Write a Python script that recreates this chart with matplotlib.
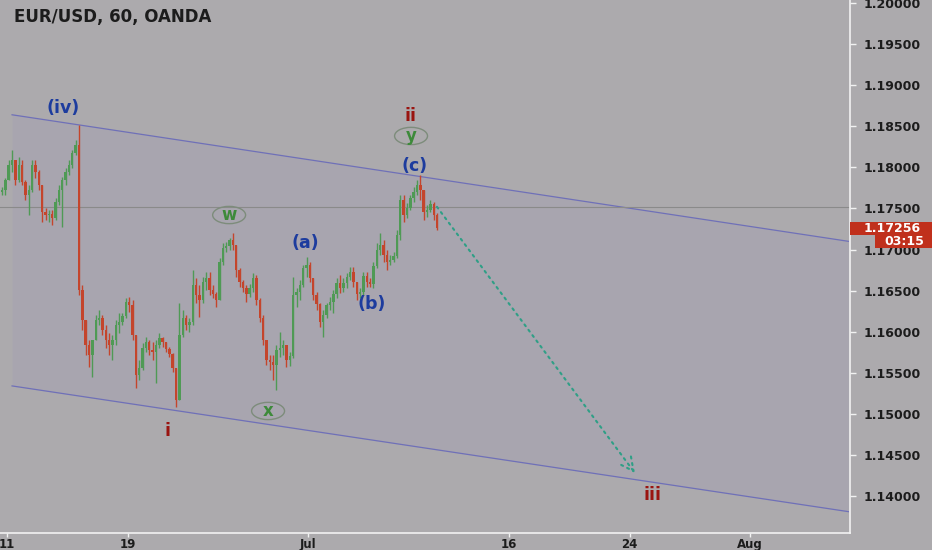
import matplotlib
matplotlib.use('Agg')
import matplotlib.pyplot as plt
from matplotlib.patches import Ellipse, Rectangle
import numpy as np

# 4-hour candles (EUR/USD, from Jun 8 late to Jul 11 2018)
highs = [1.1776, 1.1787, 1.1809, 1.1821, 1.1809, 1.1813, 1.1809, 1.1785, 1.1779, 1.1809,
         1.1809, 1.1797, 1.1779, 1.1751, 1.1748, 1.1748, 1.1763, 1.1779, 1.1788, 1.1799,
         1.1809, 1.1821, 1.1833, 1.1852, 1.1657, 1.1614, 1.1590, 1.1584, 1.1620, 1.1626,
         1.1620, 1.1608, 1.1598, 1.1596, 1.1614, 1.1623, 1.1623, 1.1641, 1.1642, 1.1639,
         1.1596, 1.1566, 1.1586, 1.1594, 1.1590, 1.1588, 1.1590, 1.1598, 1.1594, 1.1588,
         1.1581, 1.1574, 1.1556, 1.1635, 1.1626, 1.1620, 1.1617, 1.1675, 1.1665, 1.1657,
         1.1667, 1.1673, 1.1673, 1.1657, 1.1648, 1.1690, 1.1708, 1.1709, 1.1714, 1.1720,
         1.1706, 1.1678, 1.1663, 1.1657, 1.1658, 1.1672, 1.1669, 1.1641, 1.1620, 1.1590,
         1.1572, 1.1572, 1.1584, 1.1600, 1.1590, 1.1584, 1.1575, 1.1667, 1.1653, 1.1663,
         1.1681, 1.1691, 1.1685, 1.1665, 1.1648, 1.1635, 1.1626, 1.1635, 1.1642, 1.1651,
         1.1665, 1.1669, 1.1665, 1.1672, 1.1679, 1.1679, 1.1661, 1.1653, 1.1673, 1.1673,
         1.1665, 1.1685, 1.1708, 1.1720, 1.1712, 1.1699, 1.1693, 1.1697, 1.1724, 1.1766,
         1.1766, 1.1757, 1.1766, 1.1776, 1.1785, 1.1791, 1.1773, 1.1754, 1.1760, 1.1758, 1.1744]
lows = [1.1766, 1.1766, 1.1785, 1.1794, 1.1779, 1.1782, 1.1779, 1.1760, 1.1742, 1.1770,
        1.1787, 1.1773, 1.1734, 1.1736, 1.1734, 1.1730, 1.1736, 1.1754, 1.1727, 1.1779,
        1.1791, 1.1799, 1.1815, 1.1645, 1.1602, 1.1572, 1.1557, 1.1545, 1.1590, 1.1608,
        1.1596, 1.1580, 1.1572, 1.1566, 1.1584, 1.1598, 1.1608, 1.1617, 1.1624, 1.1590,
        1.1532, 1.1541, 1.1553, 1.1575, 1.1572, 1.1566, 1.1538, 1.1580, 1.1581, 1.1575,
        1.1569, 1.1551, 1.1508, 1.1517, 1.1594, 1.1602, 1.1600, 1.1608, 1.1635, 1.1618,
        1.1635, 1.1651, 1.1645, 1.1641, 1.1630, 1.1639, 1.1681, 1.1697, 1.1699, 1.1699,
        1.1667, 1.1654, 1.1648, 1.1636, 1.1642, 1.1648, 1.1633, 1.1612, 1.1584, 1.1560,
        1.1553, 1.1541, 1.1529, 1.1569, 1.1572, 1.1557, 1.1558, 1.1568, 1.1630, 1.1639,
        1.1654, 1.1667, 1.1661, 1.1639, 1.1626, 1.1606, 1.1594, 1.1617, 1.1626, 1.1623,
        1.1641, 1.1647, 1.1648, 1.1653, 1.1663, 1.1654, 1.1639, 1.1641, 1.1645, 1.1654,
        1.1654, 1.1653, 1.1678, 1.1693, 1.1685, 1.1675, 1.1681, 1.1685, 1.1690, 1.1712,
        1.1734, 1.1738, 1.1748, 1.1758, 1.1766, 1.1760, 1.1736, 1.1740, 1.1746, 1.1736, 1.1724]
closes = [1.1773, 1.1785, 1.1803, 1.1809, 1.1785, 1.1803, 1.1782, 1.1766, 1.1773, 1.1803,
          1.1794, 1.1779, 1.1746, 1.1742, 1.1743, 1.1738, 1.1758, 1.1773, 1.1785, 1.1794,
          1.1803, 1.1818, 1.1827, 1.1651, 1.1614, 1.1584, 1.1572, 1.1590, 1.1614, 1.1617,
          1.1602, 1.1590, 1.1584, 1.1590, 1.1608, 1.1612, 1.1619, 1.1636, 1.1633, 1.1596,
          1.1547, 1.1556, 1.1580, 1.1588, 1.1578, 1.1575, 1.1584, 1.1592, 1.1588, 1.1579,
          1.1573, 1.1556, 1.1517, 1.1596, 1.1617, 1.1608, 1.1612, 1.1657, 1.1645, 1.1639,
          1.1661, 1.1665, 1.1651, 1.1646, 1.1639, 1.1685, 1.1702, 1.1704, 1.1712, 1.1706,
          1.1675, 1.1661, 1.1653, 1.1646, 1.1653, 1.1665, 1.1639, 1.1617, 1.1590, 1.1566,
          1.1563, 1.1560, 1.1578, 1.1580, 1.1584, 1.1566, 1.1570, 1.1645, 1.1648, 1.1657,
          1.1678, 1.1681, 1.1665, 1.1645, 1.1634, 1.1612, 1.1620, 1.1633, 1.1636, 1.1646,
          1.1659, 1.1653, 1.1659, 1.1667, 1.1673, 1.1661, 1.1646, 1.1648, 1.1668, 1.1661,
          1.1658, 1.1680, 1.1699, 1.1706, 1.1693, 1.1685, 1.1687, 1.1692, 1.1718, 1.1760,
          1.1742, 1.1751, 1.1763, 1.1770, 1.1779, 1.1773, 1.1746, 1.1748, 1.1755, 1.1742, 1.17256]
first_open = 1.1770
last_price = '1.17256'
countdown = '03:15'

# x axis in trading days from Jun 11
date_ticks = [0, 6, 15, 25, 31, 37]
date_labels = ['11', '19', 'Jul', '16', '24', 'Aug']
price_ticks = [1.140, 1.145, 1.150, 1.155, 1.160, 1.165, 1.170, 1.175, 1.180, 1.185, 1.190, 1.195, 1.200]

# drawings
channel_days = [0.25, 41.9]
channel_upper = [1.1864, 1.1710]
channel_lower = [1.1534, 1.1381]
hline_price = 1.1752
arrow_from = (21.41, 1.1752)
arrow_to = (31.27, 1.1428)

wave_text = ['(iv)', '(c)', '(a)', '(b)', 'ii', 'i', 'iii']
wave_day = [2.79, 20.32, 14.84, 18.18, 20.07, 7.97, 32.12]
wave_price = [1.18723, 1.18017, 1.17080, 1.16337, 1.18625, 1.14792, 1.14013]
wave_kind = ['minor', 'minor', 'minor', 'minor', 'major', 'major', 'major']

circle_text = ['w', 'x', 'y']
circle_day = [11.06, 13.0, 20.12]
circle_price = [1.17420, 1.15035, 1.18382]

BG = '#acaaad'
UP = '#4f9a55'
DOWN = '#c4452c'
BLUE = '#1d3c9e'
RED = '#9a1410'
GREEN = '#3d8a3a'
TEAL = '#2f9f86'
TXT = '#1c1c1c'

fig = plt.figure(figsize=(9.32, 5.5), dpi=100, facecolor=BG)
ax = fig.add_axes([0, 17 / 550, 850 / 932, 533 / 550])
ax.set_facecolor(BG)
ax.set_xlim(-0.35, 41.98)
ax.set_ylim(1.1355, 1.20037)

# channel with tinted fill
ax.fill_between(channel_days, channel_lower, channel_upper, color='#8a80c8', alpha=0.10, lw=0, zorder=1)
ax.plot(channel_days, channel_upper, color='#6f70b8', lw=0.9, zorder=2)
ax.plot(channel_days, channel_lower, color='#6f70b8', lw=0.9, zorder=2)
ax.axhline(hline_price, color='#8a8a8a', lw=0.8, zorder=2)

# candles
h = np.array(highs)
l = np.array(lows)
c = np.array(closes)
o = np.concatenate([[first_open], c[:-1]])
t = (np.arange(len(c)) - 2 + 0.5) / 6
col = np.where(c >= o, UP, DOWN)
ax.vlines(t, l, h, colors=col, lw=1.0, zorder=3)
body = np.maximum(np.abs(c - o), 0.00006)
ax.bar(t, body, bottom=np.minimum(o, c), width=0.12, color=col, lw=0, zorder=4)

# projection arrow
ax.annotate('', xy=arrow_to, xytext=arrow_from,
            arrowprops=dict(arrowstyle='->', ls=(0, (1, 2.2)), color=TEAL, lw=1.5,
                            mutation_scale=24, shrinkA=0, shrinkB=0), zorder=5)

# wave labels
for s, d, p, k in zip(wave_text, wave_day, wave_price, wave_kind):
    ax.text(d, p, s, color=BLUE if k == 'minor' else RED, fontsize=12.5, fontweight='bold',
            ha='center', va='center', zorder=6)
for s, d, p in zip(circle_text, circle_day, circle_price):
    ax.add_patch(Ellipse((d, p), 1.64, 0.0021, fill=False, ec='#7d8c7b', lw=1.0, zorder=6))
    ax.text(d, p - 0.00005, s, color=GREEN, fontsize=12, fontweight='bold',
            ha='center', va='center', zorder=7)

# axes styling
for side in ['top', 'left']:
    ax.spines[side].set_visible(False)
for side in ['bottom', 'right']:
    ax.spines[side].set_color('#f2f2f2')
    ax.spines[side].set_linewidth(1.2)
ax.yaxis.tick_right()
ax.set_yticks(price_ticks)
ax.set_yticklabels([f'{v:.5f}' for v in price_ticks])
ax.tick_params(axis='y', colors='#f2f2f2', labelcolor=TXT, length=4, width=1, pad=6, labelsize=9)
for lab in ax.get_yticklabels():
    lab.set_fontweight('bold')
ax.set_xticks(date_ticks)
ax.set_xticklabels(date_labels)
ax.tick_params(axis='x', colors='#f2f2f2', labelcolor=TXT, length=3, width=1, pad=0.5, labelsize=8.5)
for lab in ax.get_xticklabels():
    lab.set_fontweight('bold')

# last price and countdown boxes
fig.add_artist(Rectangle((850 / 932, 1 - 235 / 550), 82 / 932, 13 / 550,
                         transform=fig.transFigure, color='#c0301c', lw=0, zorder=10))
fig.add_artist(Rectangle((875 / 932, 1 - 248 / 550), 57 / 932, 13 / 550,
                         transform=fig.transFigure, color='#c0301c', lw=0, zorder=10))
fig.text(892 / 932, 1 - 228.5 / 550, last_price, color='white', fontsize=9, fontweight='bold',
         ha='center', va='center', zorder=11)
fig.text(904 / 932, 1 - 241.5 / 550, countdown, color='white', fontsize=9, fontweight='bold',
         ha='center', va='center', zorder=11)

fig.text(14 / 932, 1 - 17 / 550, 'EUR/USD, 60, OANDA', fontsize=12, fontweight='bold',
         color=TXT, va='center')

fig.savefig('out.png', dpi=100, facecolor=BG)
